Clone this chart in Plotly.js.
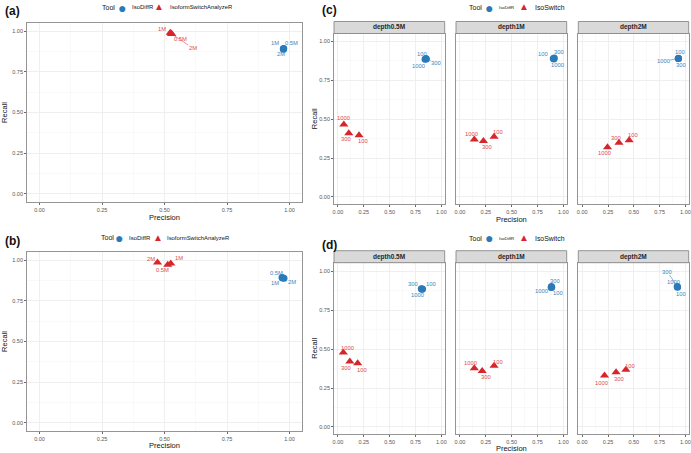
<!DOCTYPE html>
<html>
<head>
<meta charset="utf-8">
<script src="https://cdn.plot.ly/plotly-3.0.1.min.js"></script>
<style>
  html, body { margin: 0; padding: 0; background: #fff; }
  #chart { width: 691px; height: 453px; }
</style>
</head>
<body>
<div id="chart"></div>
<script>
// ---------- data ----------
// (a) and (b): one point per sequencing depth
const depthLabels = ['0.5M', '1M', '2M'];

const aDiffPrec = [0.977, 0.975, 0.976];
const aDiffRec = [0.893, 0.891, 0.889];
const aSwitchPrec = [0.527, 0.523, 0.529];
const aSwitchRec = [0.986, 0.990, 0.982];

const bDiffPrec = [0.970, 0.972, 0.978];
const bDiffRec = [0.893, 0.890, 0.888];
const bSwitchPrec = [0.513, 0.525, 0.472];
const bSwitchRec = [0.972, 0.980, 0.985];

// (c) and (d): facets by depth, one point per threshold
const facetNames = ['depth0.5M', 'depth1M', 'depth2M'];
const thresholdLabels = ['100', '300', '1000'];

const cDiffPrec = [[0.849, 0.855, 0.842], [0.902, 0.912, 0.908], [0.932, 0.934, 0.930]];
const cDiffRec = [[0.889, 0.886, 0.884], [0.890, 0.892, 0.887], [0.891, 0.889, 0.890]];
const cSwitchPrec = [[0.204, 0.105, 0.057], [0.330, 0.227, 0.139], [0.455, 0.356, 0.245]];
const cSwitchRec = [[0.397, 0.410, 0.466], [0.387, 0.359, 0.370], [0.365, 0.348, 0.319]];

const dDiffPrec = [[0.818, 0.806, 0.812], [0.888, 0.884, 0.882], [0.924, 0.921, 0.922]];
const dDiffRec = [[0.886, 0.888, 0.884], [0.898, 0.902, 0.896], [0.897, 0.902, 0.900]];
const dSwitchPrec = [[0.191, 0.115, 0.052], [0.330, 0.215, 0.139], [0.423, 0.328, 0.216]];
const dSwitchRec = [[0.410, 0.420, 0.478], [0.393, 0.360, 0.378], [0.367, 0.352, 0.330]];

// ---------- label placement (pixel nudges [dx, dy, leaderLine]) ----------
const aDiffNudge = [[8, -6, 0], [-8, -6, 0], [-3, 5, 0]];
const aSwitchNudge = [[9, 6, 0], [-8, -4, 0], [21, 14, 1]];
const bDiffNudge = [[-6, -5, 0], [-8, 5, 0], [8, 4, 0]];
const bSwitchNudge = [[-5, 5, 0], [8, -5, 0], [-7, -4, 0]];
const cDiffNudge = [
  [[-4, -5, 0], [10, 4, 1], [-7, 7, 0]],
  [[-10, -4, 0], [5, -6, 0], [4, 6, 0]],
  [[2, -6, 0], [2, 6, 0], [-15, 3, 1]]
];
const cSwitchNudge = [
  [[4, 6, 0], [-3, 6, 0], [0, -6, 0]],
  [[4, -5, 0], [4, 6, 0], [-3, -5, 0]],
  [[4, -5, 0], [-3, -5, 0], [-3, 6, 0]]
];
const dDiffNudge = [
  [[8, -5, 0], [-8, -5, 0], [-4, 6, 0]],
  [[6, 6, 0], [4, -6, 0], [-10, 4, 0]],
  [[3, 7, 0], [-10, -15, 1], [-4, -5, 0]]
];
const dSwitchNudge = [
  [[4, 7, 0], [-4, 6, 0], [4, -5, 0]],
  [[4, -4, 0], [4, 6, 0], [-4, -5, 0]],
  [[4, -4, 0], [3, 7, 0], [-3, 7, 0]]
];

// ---------- styling ----------
const W = 691, H = 453;
const FONT = 'Liberation Sans, Arial, sans-serif';
const BLUE = '#2a7ab9';
const RED = '#d7262b';
const BLUE_TXT = '#3a87c2';
const RED_TXT = '#df4a4e';
const px = x => x / W;
const py = y => 1 - y / H;

// panel boxes in pixels: [left, right, top, bottom]
const boxA = [27, 302, 23, 202];
const boxB = [27, 302, 252, 431];
const facetX = [[334, 444.7], [456, 566.7], [578.3, 688.7]];
const cTop = 33.5, cBottom = 204, cStripTop = 21.5;
const dTop = 262.7, dBottom = 434, dStripTop = 250.7;

function xAxis(domain, range, anchor, title, titleStandoff) {
  const ax = {
    domain: domain, range: range, anchor: anchor,
    tick0: 0, dtick: 0.25, tickformat: '.2f',
    ticks: 'outside', ticklen: 2, tickwidth: 0.8, tickcolor: '#444',
    tickfont: { family: FONT, size: 5.5, color: '#555' },
    showline: true, mirror: true, linecolor: '#8a8a8a', linewidth: 0.9,
    showgrid: true, gridcolor: '#ebebeb', gridwidth: 0.8,
    minor: { dtick: 0.125, tick0: 0, showgrid: true, gridcolor: '#f4f4f4', gridwidth: 0.5 },
    zeroline: false, fixedrange: true
  };
  if (title) ax.title = { text: title, font: { family: FONT, size: 7.5, color: '#111' }, standoff: titleStandoff };
  return ax;
}
function yAxis(domain, range, anchor, showLabels, title, titleStandoff) {
  const ax = xAxis(domain, range, anchor, title, titleStandoff);
  if (!showLabels) { ax.showticklabels = false; ax.ticks = ''; }
  return ax;
}

const layout = {
  width: W, height: H,
  margin: { l: 0, r: 0, t: 0, b: 0 },
  paper_bgcolor: '#fff', plot_bgcolor: '#fff',
  showlegend: false,
  font: { family: FONT },
  shapes: [], annotations: []
};

const fullRange = [-0.05, 1.05];
const facetXRange = [-0.038, 1.032];
const cYRange = [-0.045, 1.05];
const dYRange = [-0.045, 1.055];

// (a)
layout.xaxis = xAxis([px(boxA[0]), px(boxA[1])], fullRange, 'y', 'Precision', 3);
layout.yaxis = yAxis([py(boxA[3]), py(boxA[2])], fullRange, 'x', true, 'Recall', 3);
// (b)
layout.xaxis2 = xAxis([px(boxB[0]), px(boxB[1])], fullRange, 'y2', 'Precision', 2);
layout.yaxis2 = yAxis([py(boxB[3]), py(boxB[2])], fullRange, 'x2', true, 'Recall', 3);
// (c) facets: axes 3-5, (d) facets: axes 6-8
for (let f = 0; f < 3; f++) {
  const nc = 3 + f, nd = 6 + f;
  layout['xaxis' + nc] = xAxis([px(facetX[f][0]), px(facetX[f][1])], facetXRange, 'y' + nc,
    f === 1 ? 'Precision' : null, 3);
  layout['yaxis' + nc] = yAxis([py(cBottom), py(cTop)], cYRange, 'x' + nc, f === 0,
    f === 0 ? 'Recall' : null, 0);
  layout['xaxis' + nd] = xAxis([px(facetX[f][0]), px(facetX[f][1])], facetXRange, 'y' + nd,
    f === 1 ? 'Precision' : null, 3);
  layout['yaxis' + nd] = yAxis([py(dBottom), py(dTop)], dYRange, 'x' + nd, f === 0,
    f === 0 ? 'Recall' : null, 0);

  // facet strips
  [[cStripTop, cTop], [dStripTop, dTop]].forEach(s => {
    layout.shapes.push({
      type: 'rect', xref: 'paper', yref: 'paper',
      x0: px(facetX[f][0]), x1: px(facetX[f][1]), y0: py(s[1]), y1: py(s[0]),
      fillcolor: '#d9d9d9', line: { color: '#8a8a8a', width: 0.9 }
    });
    layout.annotations.push({
      xref: 'paper', yref: 'paper', x: px((facetX[f][0] + facetX[f][1]) / 2), y: py((s[0] + s[1]) / 2),
      text: '<b>' + facetNames[f] + '</b>', showarrow: false,
      font: { family: FONT, size: 6.5, color: '#262626' }, xanchor: 'center', yanchor: 'middle'
    });
  });
}

const data = [];
function addSeries(xs, ys, labels, nudges, axisNum, isDiff) {
  const xr = axisNum === 1 ? 'x' : 'x' + axisNum;
  const yr = axisNum === 1 ? 'y' : 'y' + axisNum;
  data.push({
    type: 'scatter', mode: 'markers', x: xs, y: ys, xaxis: xr, yaxis: yr,
    marker: isDiff
      ? { symbol: 'circle', size: 7, color: BLUE }
      : { symbol: 'triangle-up', size: 8, color: RED },
    hoverinfo: 'x+y+text', text: labels
  });
  labels.forEach((lab, i) => {
    const n = nudges[i];
    layout.annotations.push({
      xref: xr, yref: yr, x: xs[i], y: ys[i], text: lab,
      showarrow: true, ax: n[0], ay: n[1], arrowhead: 0, arrowwidth: 0.6,
      arrowcolor: n[2] ? (isDiff ? BLUE_TXT : RED_TXT) : 'rgba(0,0,0,0)',
      standoff: 3, startstandoff: 0,
      font: { family: FONT, size: 5.8, color: isDiff ? BLUE_TXT : RED_TXT },
      borderpad: 0
    });
  });
}

addSeries(aDiffPrec, aDiffRec, depthLabels, aDiffNudge, 1, true);
addSeries(aSwitchPrec, aSwitchRec, depthLabels, aSwitchNudge, 1, false);
addSeries(bDiffPrec, bDiffRec, depthLabels, bDiffNudge, 2, true);
addSeries(bSwitchPrec, bSwitchRec, depthLabels, bSwitchNudge, 2, false);
for (let f = 0; f < 3; f++) {
  addSeries(cDiffPrec[f], cDiffRec[f], thresholdLabels, cDiffNudge[f], 3 + f, true);
  addSeries(cSwitchPrec[f], cSwitchRec[f], thresholdLabels, cSwitchNudge[f], 3 + f, false);
  addSeries(dDiffPrec[f], dDiffRec[f], thresholdLabels, dDiffNudge[f], 6 + f, true);
  addSeries(dSwitchPrec[f], dSwitchRec[f], thresholdLabels, dSwitchNudge[f], 6 + f, false);
}

// panel letters
[['(a)', 12, 11], ['(b)', 12, 241], ['(c)', 329, 10], ['(d)', 329, 245]].forEach(p => {
  layout.annotations.push({
    xref: 'paper', yref: 'paper', x: px(p[1]), y: py(p[2]), text: '<b>' + p[0] + '</b>',
    showarrow: false, xanchor: 'center', yanchor: 'middle',
    font: { family: FONT, size: 12, color: '#111' }
  });
});

// "Tool" keys above each panel
function addKey(y, xTool, xCircle, xDiffText, xTri, xSwitchText, switchName, diffSize, switchSize) {
  const items = [
    { x: xTool, text: 'Tool', size: 7, color: '#111', anchor: 'left', dy: 0 },
    { x: xCircle, text: '\u25CF', size: 14, color: BLUE, anchor: 'center', dy: 0.3 },
    { x: xDiffText, text: 'IsoDiffR', size: diffSize, color: '#111', anchor: 'left', dy: 0 },
    { x: xTri, text: '\u25B2', size: 10, color: RED, anchor: 'center', dy: -0.5 },
    { x: xSwitchText, text: switchName, size: switchSize, color: '#111', anchor: 'left', dy: 0 }
  ];
  items.forEach(it => layout.annotations.push({
    xref: 'paper', yref: 'paper', x: px(it.x), y: py(y + it.dy), text: it.text, showarrow: false,
    xanchor: it.anchor, yanchor: 'middle', font: { family: FONT, size: it.size, color: it.color }
  }));
}
addKey(7.3, 99.5, 122, 129.5, 159.3, 167.5, 'IsoformSwitchAnalyzeR', 6, 5.9);
addKey(237.7, 98.5, 119.3, 126.5, 157.7, 165, 'IsoformSwitchAnalyzeR', 6, 5.9);
addKey(7.3, 466.5, 489.3, 496.5, 524, 532.5, 'IsoSwitch', 4.3, 6.9);
addKey(238, 466.5, 489.3, 496.5, 524, 532.5, 'IsoSwitch', 4.3, 6.9);

Plotly.newPlot('chart', data, layout, { staticPlot: true, displayModeBar: false });
</script>
</body>
</html>
